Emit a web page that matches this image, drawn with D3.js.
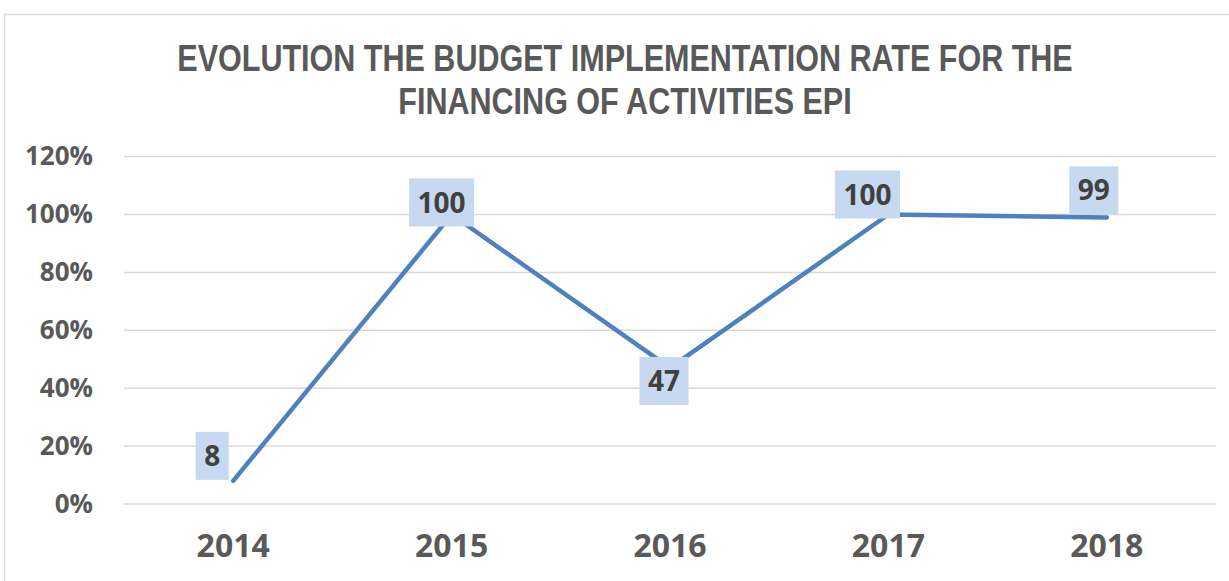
<!DOCTYPE html>
<html>
<head>
<meta charset="utf-8">
<script src="https://cdn.jsdelivr.net/npm/d3@7"></script>
<style>
  body { margin: 0; background: #fff; }
  svg { display: block; }
</style>
</head>
<body>
<div class="chart-container"></div>
<script>
// data
const years = ["2014", "2015", "2016", "2017", "2018"];
const rates = [8, 100, 47, 100, 99];
const yTicks = [0, 20, 40, 60, 80, 100, 120];
const titleLines = [
  "EVOLUTION THE BUDGET IMPLEMENTATION RATE FOR THE",
  "FINANCING OF ACTIVITIES EPI",
];

// manual nudges of the data label boxes (centre offset from the point)
const labelShift = [
  [-21, -25],
  [-10, -12],
  [-6, 13],
  [-21, -20],
  [-13, -27],
];

const w = 1229;
const h = 581;
const plotLeft = 124;
const plotRight = 1216;
const plotTop = 156.6;
const plotBottom = 504;

const svg = d3
  .select(".chart-container")
  .append("svg")
  .attr("width", w)
  .attr("height", h);

// chart frame
svg
  .append("rect")
  .attr("x", 4.5)
  .attr("y", 14.5)
  .attr("width", 1260)
  .attr("height", 620)
  .attr("fill", "#fff")
  .attr("stroke", "#d9d9d9")
  .attr("stroke-width", 1.5);

// title, squeezed to the width of the original
const titleWidth = 896;
const title = svg
  .append("g")
  .selectAll("text")
  .data(titleLines)
  .enter()
  .append("text")
  .attr("text-anchor", "middle")
  .style("font-family", "'Liberation Sans Narrow', 'Arial Narrow', 'Liberation Sans', sans-serif")
  .style("font-weight", "bold")
  .style("font-size", "37px")
  .style("fill", "#595959")
  .text((d) => d);

const firstLen = title.node().getComputedTextLength();
const sx = titleWidth / firstLen;
title.attr(
  "transform",
  (d, i) => "translate(625," + (71 + i * 43) + ") scale(" + sx + ",1)"
);

// scales
const xScale = d3.scaleBand().domain(years).range([plotLeft, plotRight]);
const yScale = d3.scaleLinear().domain([0, 120]).range([plotBottom, plotTop]);

// gridlines
svg
  .append("g")
  .selectAll("line")
  .data(yTicks)
  .enter()
  .append("line")
  .attr("x1", plotLeft)
  .attr("x2", plotRight)
  .attr("y1", (d) => yScale(d))
  .attr("y2", (d) => yScale(d))
  .attr("stroke", "#d9d9d9")
  .attr("stroke-width", 1.5);

// y axis
const yAxis = d3
  .axisLeft(yScale)
  .tickValues(yTicks)
  .tickFormat((d) => d + "%")
  .tickSize(0)
  .tickPadding(31);

const gy = svg
  .append("g")
  .attr("transform", "translate(" + plotLeft + ",0)")
  .call(yAxis);
gy.select(".domain").remove();
gy.selectAll("text")
  .style("font-family", "'Open Sans', sans-serif")
  .style("font-weight", "bold")
  .style("font-size", "26px")
  .style("fill", "#595959");

// x axis
const xAxis = d3.axisBottom(xScale).tickSize(0).tickPadding(30);
const gx = svg
  .append("g")
  .attr("transform", "translate(0," + plotBottom + ")")
  .call(xAxis);
gx.select(".domain").remove();
gx.selectAll("text")
  .style("font-family", "'Open Sans', sans-serif")
  .style("font-weight", "bold")
  .style("font-size", "32px")
  .style("fill", "#595959");

const cx = (i) => xScale(years[i]) + xScale.bandwidth() / 2;

// line
const line = d3
  .line()
  .x((d, i) => cx(i))
  .y((d) => yScale(d));

svg
  .append("path")
  .datum(rates)
  .attr("d", line)
  .attr("fill", "none")
  .attr("stroke", "#4f81bd")
  .attr("stroke-width", 4.5)
  .attr("stroke-linecap", "round")
  .attr("stroke-linejoin", "round");

// data labels
const labels = svg
  .append("g")
  .selectAll("g")
  .data(rates)
  .enter()
  .append("g")
  .attr(
    "transform",
    (d, i) =>
      "translate(" + (cx(i) + labelShift[i][0]) + "," + (yScale(d) + labelShift[i][1]) + ")"
  );

labels.append("rect").attr("fill", "#c6d9f0");

labels
  .append("text")
  .attr("text-anchor", "middle")
  .attr("dy", "0.36em")
  .style("font-family", "'Open Sans', sans-serif")
  .style("font-weight", "bold")
  .style("font-size", "28px")
  .style("fill", "#404040")
  .text((d) => d);

labels.each(function () {
  const g = d3.select(this);
  const tw = g.select("text").node().getComputedTextLength();
  g.select("rect")
    .attr("x", -(tw + 17) / 2)
    .attr("y", -24)
    .attr("width", tw + 17)
    .attr("height", 48);
});
</script>
</body>
</html>
